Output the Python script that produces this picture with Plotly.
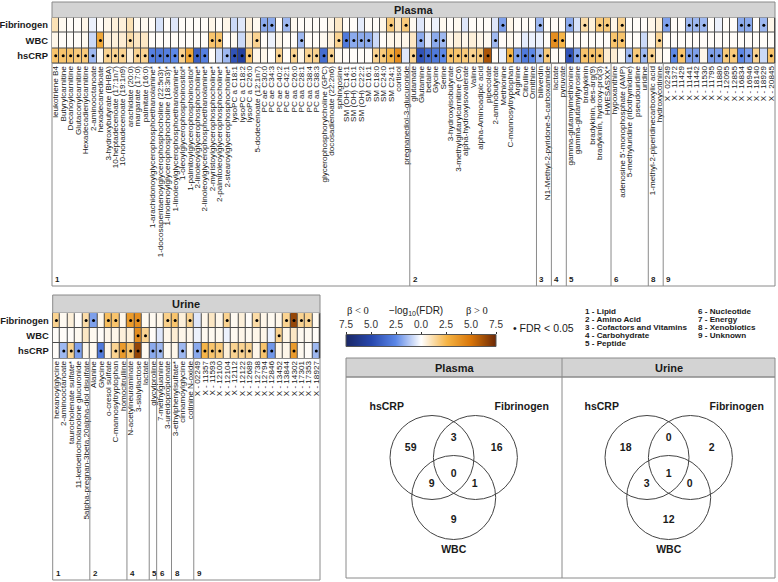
import numpy as np
import plotly.graph_objects as go

W, H = 778, 582
def px(x): return x / W
def py(y): return 1 - y / H

# ---------------- DATA ----------------
rows = ["hsCRP", "WBC", "Fibrinogen"]

plasma_metabolites = [
    "leukotriene B4", "Butyrylcarnitine", "Decanoylcarnitine", "Glutaconylcarnitine",
    "Hexadecadienylcarnitine", "2-aminooctanoate", "hexadecanedioate", "3-hydroxybutyrate (BHBA)",
    "10-heptadecenoate (17:1n7)", "10-nonadecenoate (19:1n9)", "arachidate (20:0)", "margarate (17:0)",
    "palmitate (16:0)", "1-arachidonoylglycerophosphoethanolamine*",
    "1-docosapentaenoylglycerophosphocholine (22:5n3)*", "1-linolenoylglycerophosphocholine (18:3n3)*",
    "1-linoleoylglycerophosphoethanolamine*", "1-oleoylglycerophosphoinositol*",
    "1-palmitoylglycerophosphoinositol*", "2-linoleoylglycerophosphocholine*",
    "2-linoleoylglycerophosphoethanolamine*", "2-myristoylglycerophosphocholine*",
    "2-palmitoleoylglycerophosphocholine*", "2-stearoylglycerophosphocholine*",
    "lysoPC a C18:1", "lysoPC a C18:2", "lysoPC a C26:0", "5-dodecenoate (12:1n7)",
    "PC ae C30:0", "PC ae C34:3", "PC ae C40:2", "PC ae C42:1", "PC aa C26:0", "PC aa C28:1",
    "PC aa C38:4", "PC aa C38:3", "glycerophosphorylcholine (GPC)", "docosadienoate (22:2n6)",
    "sphingosine", "SM (OH) C14:1", "SM (OH) C16:1", "SM (OH) C22:2", "SM C16:1", "SM C18:0",
    "SM C24:0", "SM C24:1", "cortisol", "pregnanediol-3-glucuronide",
    "glutamate", "Glutamine", "betaine", "Glycine", "Serine", "3-hydroxyisobutyrate",
    "3-methylglutarylcarnitine (C6)", "alpha-hydroxyisovalerate", "Valine", "alpha-Aminoadipic acid",
    "pipecolate", "2-aminobutyrate", "Methionine", "C-mannosyltryptophan", "Arginine", "Citrulline",
    "Ornithine",
    "biliverdin", "N1-Methyl-2-pyridone-5-carboxamide",
    "lactate", "pyruvate",
    "gamma-glutamylmethionine", "gamma-glutamyltyrosine", "bradykinin", "bradykinin, des-arg(9)",
    "bradykinin, hydroxy-pro(3)", "HWESASXX*",
    "hypoxanthine", "adenosine 5'-monophosphate (AMP)", "5-methyluridine (ribothymidine)",
    "pseudouridine", "uridine",
    "1-methyl-2-piperidinecarboxylic acid", "hydroxycotinine",
    "X - 02249", "X - 11372", "X - 11429", "X - 11441", "X - 11442", "X - 11530", "X - 11795",
    "X - 11880", "X - 12095", "X - 12855", "X - 16834", "X - 16946", "X - 18140", "X - 18929",
    "X - 20845",
]
plasma_group_labels = ["1", "2", "3", "4", "5", "6", "8", "9"]
plasma_group_counts = [48, 17, 2, 2, 6, 5, 2, 15]

# signed -log10(FDR) (sign = direction of beta)
plasma_fib = [
    1.0, 0.2, 0.1, 0.1, 0.3, -0.3, 0.1, 0.3, 0.5, 0.5, 1.0, 0.2, 0.2, 0.1, -0.6, 0.1, -0.5, 0.1,
    0.1, 0.1, 0.1, 0.3, 0.1, 0.3, -0.8, -0.5, 0.5, 0.2, -1.8, -1.8, 0.1, -1.5, 0.2, 0.1, 0.1, 0.1,
    0.1, 0.3, 0.8, 0.1, 0.1, -0.4, 0.1, 0.1, 0.3, 1.8, 0.8, 1.8,
    0.2, -0.5, 0.1, -0.3, 0.2, 0.1, 0.2, -0.5, 0.1, 0.1, 0.1, -0.5, -2.0, 0.3, 0.1, 0.1, 0.1,
    -1.5, 0.1,
    0.1, 0.1,
    -1.8, -0.6, 1.2, 0.5, 1.8, 1.8,
    0.3, 1.5, 0.1, 0.1, 0.1,
    0.3, 0.6,
    -2.0, 0.1, 0.1, -1.5, -1.5, -1.5, 0.1, -0.3, 0.1, 0.1, -1.8, -1.8, 0.1, -1.5, 0.3,
]
plasma_wbc = [
    0.3, 0.1, 0.1, 0.1, 0.2, -0.8, 3.0, 0.5, 0.5, 0.6, 1.2, 0.8, 0.8, 0.1, 0.1, 0.1, 0.1, 0.1,
    0.1, 0.1, 0.1, 2.0, 2.0, 0.1, 0.2, -0.8, 0.8, 1.5, 0.1, -0.3, 0.3, 0.1, 0.1, -1.5, 0.1, 0.1,
    0.2, 0.5, 1.5, -3.0, -1.8, -1.8, -1.8, -0.8, 0.1, 0.3, 0.3, 0.3,
    0.8, -1.8, -0.5, -1.8, -1.5, 0.3, 0.5, 0.3, 0.5, 0.3, 0.2, -1.5, 0.1, 0.2, 0.1, -0.4, -0.3,
    -0.3, 0.1,
    4.0, 2.5,
    0.1, 0.1, 0.1, 0.1, 0.1, 0.1,
    2.0, 2.0, 0.1, 0.1, -0.8,
    0.3, 1.5,
    0.1, 0.1, 0.1, 0.1, 0.1, 0.1, 0.1, 0.1, 0.1, 0.1, 0.1, 0.1, 0.1, 0.1, 0.1,
]
plasma_crp = [
    2.0, 2.0, 2.0, 1.8, 1.8, -1.5, 0.2, 1.5, 1.5, 1.5, 0.5, 1.5, 1.5, -2.8, -3.0, -2.8, -2.5, 1.5,
    3.0, -4.0, -2.8, 0.1, -0.8, -1.5, -4.5, -5.5, 2.0, 0.3, 0.3, 0.1, 1.5, 0.1, 1.5, 0.3, 1.5, 1.5,
    -3.5, 1.5, 0.2, 0.1, 0.1, 0.1, 0.1, 1.5, 1.8, 2.5, 4.0, -0.5,
    1.5, -4.5, -3.5, -3.0, -2.5, 2.0, 2.0, 1.8, 1.5, 1.8, 6.0, 0.1, -0.3, 2.5, -2.0, -3.0, -2.5,
    -1.5, 1.8,
    0.1, 0.1,
    -4.5, -2.0, 2.0, 2.0, 2.0, 0.6,
    0.6, 0.2, -1.5, 1.8, -1.5,
    1.5, 0.4,
    0.1, -2.5, 2.0, -2.0, -2.0, 0.3, -2.0, -2.0, 1.8, 1.8, -2.5, -2.0, 1.5, -0.8, 2.0,
]
# 1 = FDR < 0.05
plasma_fib_sig = [
    0, 0, 0, 0, 0, 0, 0, 0, 0, 0, 0, 0, 0, 0, 0, 0, 0, 0, 0, 0, 0, 0, 0, 0, 0, 0, 0, 0, 1, 1, 0, 1,
    0, 0, 0, 0, 0, 0, 0, 0, 0, 0, 0, 0, 0, 1, 0, 1,
    0, 0, 0, 0, 0, 0, 0, 0, 0, 0, 0, 0, 1, 0, 0, 0, 0,
    1, 0,
    0, 0,
    1, 0, 1, 0, 1, 1,
    0, 1, 0, 0, 0,
    0, 0,
    1, 0, 0, 1, 1, 1, 0, 0, 0, 0, 1, 1, 0, 1, 0,
]
plasma_wbc_sig = [
    0, 0, 0, 0, 0, 0, 1, 0, 0, 0, 1, 0, 0, 0, 0, 0, 0, 0, 0, 0, 0, 1, 1, 0, 0, 0, 0, 1, 0, 0, 0, 0,
    0, 1, 0, 0, 0, 0, 1, 1, 1, 1, 1, 0, 0, 0, 0, 0,
    0, 1, 0, 1, 1, 0, 0, 0, 0, 0, 0, 1, 0, 0, 0, 0, 0,
    0, 0,
    1, 1,
    0, 0, 0, 0, 0, 0,
    1, 1, 0, 0, 0,
    0, 1,
    0, 0, 0, 0, 0, 0, 0, 0, 0, 0, 0, 0, 0, 0, 0,
]
plasma_crp_sig = [
    1, 1, 1, 1, 1, 1, 0, 1, 1, 1, 0, 1, 1, 1, 1, 1, 1, 1, 1, 1, 1, 0, 0, 1, 1, 1, 1, 0, 0, 0, 1, 0,
    1, 0, 1, 1, 1, 1, 0, 0, 0, 0, 0, 1, 1, 1, 1, 0,
    1, 1, 1, 1, 1, 1, 1, 1, 1, 1, 1, 0, 0, 1, 1, 1, 1,
    1, 1,
    0, 0,
    1, 1, 1, 1, 1, 0,
    0, 0, 1, 1, 1,
    1, 0,
    0, 1, 1, 1, 1, 0, 1, 1, 1, 1, 1, 1, 1, 0, 1,
]

urine_metabolites = [
    "hexanoylglycine", "2-aminooctanoate", "taurocholenate sulfate*",
    "11-ketoetiocholanolone glucuronide", "5alpha-pregnan-3beta,20alpha-diol disulfate",
    "Alanine", "Glycine", "o-cresol sulfate", "C-mannosyltryptophan", "homocitrulline",
    "N-acetylneuraminate", "3-sialyllactose", "lactate",
    "glycylproline",
    "7-methylguanine", "3-ureidopropionate",
    "3-ethylphenylsulfate*", "cinnamoylglycine", "cotinine N-oxide",
    "X - 02249", "X - 11357", "X - 11593", "X - 12100", "X - 12104", "X - 12112", "X - 12122",
    "X - 12689", "X - 12738", "X - 12794", "X - 12846", "X - 13452", "X - 13844", "X - 14302",
    "X - 17301", "X - 17353", "X - 18927",
]
urine_group_labels = ["1", "2", "4", "5", "6", "8", "9"]
urine_group_counts = [5, 5, 3, 1, 2, 3, 17]

urine_fib = [1.5, 0.2, 0.5, 0.1, 1.2, -2.0, 0.3, 2.2, 2.0, 0.3, 3.5, 4.0, 0.2, 0.2, 0.3, 1.6,
             2.0, 0.5, 1.5, -0.5, 0.3, 0.8, 0.3, 1.5, 0.2, 0.5, 0.1, 1.2, 0.3, 0.2, 0.3, 1.5,
             6.5, 1.5, 1.5, 0.2]
urine_wbc = [0.1, 0.1, 0.1, 0.2, 0.8, 0.2, 0.1, 0.3, 0.3, 0.5, 0.5, 4.0, 1.5, 0.1, -0.5, 0.3,
             0.6, 0.3, 0.3, -0.3, 0.2, 0.2, 0.2, -0.3, 0.2, 0.3, 0.2, 0.3, 0.3, -0.3, 1.5, 0.3,
             0.8, 0.2, 0.2, 0.1]
urine_crp = [0.1, -1.5, 1.5, -2.0, 0.3, 0.2, -3.0, 0.3, 1.5, 3.5, 2.0, 6.5, 0.2, -1.8, -1.5, 0.2,
             0.3, -1.5, 0.2, -1.8, 2.5, 2.0, 1.8, 0.5, 1.5, 1.5, 1.5, 0.3, 2.0, -2.2, 0.3, 0.3,
             3.5, 0.2, 0.1, -1.5]
urine_fib_sig = [1, 0, 0, 0, 1, 1, 0, 1, 1, 0, 1, 1, 0, 0, 0, 1, 1, 0, 1, 0, 0, 0, 0, 1, 0, 0,
                 0, 1, 0, 0, 0, 1, 1, 1, 1, 0]
urine_wbc_sig = [0, 0, 0, 0, 0, 0, 0, 0, 0, 0, 0, 1, 1, 0, 0, 0, 0, 0, 0, 0, 0, 0, 0, 0, 0, 0,
                 0, 0, 0, 0, 1, 0, 0, 0, 0, 0]
urine_crp_sig = [0, 1, 1, 1, 0, 0, 1, 0, 1, 1, 1, 1, 0, 1, 1, 0, 0, 1, 0, 1, 1, 1, 1, 0, 1, 1,
                 1, 0, 1, 1, 0, 0, 1, 0, 0, 1]

venn_sets = ["hsCRP", "Fibrinogen", "WBC"]
venn_regions = ["hsCRP", "hsCRP & Fibrinogen", "Fibrinogen", "all", "hsCRP & WBC",
                "Fibrinogen & WBC", "WBC"]
plasma_venn_counts = [59, 3, 16, 0, 9, 1, 9]
urine_venn_counts = [18, 0, 2, 1, 3, 0, 12]

group_legend = ["1 - Lipid", "2 - Amino Acid", "3 - Cofactors and Vitamins", "4 - Carbohydrate",
                "5 - Peptide", "6 - Nucleotide", "7 - Energy", "8 - Xenobiotics", "9 - Unknown"]
scale_ticks = [-7.5, -5.0, -2.5, 0.0, 2.5, 5.0, 7.5]

# ---------------- STYLE ----------------
colorscale = [
    [0.0, "#1a2766"], [0.17, "#2747ad"], [0.33, "#5a86e6"], [0.5, "#ffffff"],
    [0.67, "#f6b444"], [0.83, "#d87508"], [1.0, "#6a2706"],
]
FONT = "Liberation Sans, Arial, sans-serif"
TXT = "#1a1a1a"
BOX = "#8a8a8a"
STRIP = "#d3d3d3"

fig = go.Figure()
shapes = []
annotations = []

def ann(text, x, y, size, xanchor="center", family=FONT, xref="paper", xshift=0):
    annotations.append(dict(text=text, x=x, y=y, xref=xref, yref="paper", xanchor=xanchor,
                            yanchor="middle", showarrow=False, xshift=xshift,
                            font=dict(family=family, size=size, color=TXT)))

def heat_panel(xa, ya, names, fib, wbc, crp, fsig, wsig, csig, glabels, gcounts,
               x0, x1, strip_top, heat_top, heat_bot, box_bot, title):
    n = len(names)
    xs = list(range(n))
    z = [crp, wbc, fib]
    fig.add_trace(go.Heatmap(
        z=z, x=xs, y=rows, colorscale=colorscale, zmin=-7.5, zmax=7.5,
        xgap=1, ygap=1, showscale=False, xaxis=xa, yaxis=ya, hoverinfo="skip"))
    dx, dy = [], []
    for r, sig in zip(rows, [csig, wsig, fsig]):
        for i, s in enumerate(sig):
            if s:
                dx.append(i); dy.append(r)
    fig.add_trace(go.Scatter(x=dx, y=dy, mode="markers", xaxis=xa, yaxis=ya,
                             marker=dict(color="black", size=3, symbol="circle"),
                             hoverinfo="skip", showlegend=False))
    ax = "xaxis" + xa[1:]
    ay = "yaxis" + ya[1:]
    fig.layout[ax] = dict(domain=[px(x0), px(x1)], range=[-0.5, n - 0.5], tickmode="array",
                          tickvals=xs, ticktext=names, tickangle=-90, ticks="",
                          tickfont=dict(family=FONT, size=8.1, color=TXT),
                          showgrid=False, zeroline=False, showline=False, anchor=ya,
                          automargin=False, fixedrange=True)
    fig.layout[ay] = dict(domain=[py(heat_bot), py(heat_top)], type="category",
                          categoryorder="array", categoryarray=rows, range=[-0.5, 2.5],
                          tickfont=dict(family=FONT, size=9.4, color=TXT, weight="bold"),
                          ticks="", showgrid=False, zeroline=False, anchor=xa,
                          automargin=False, ticklabelstandoff=3)
    # cell borders (visible through gaps)
    shapes.append(dict(type="rect", xref=xa + " domain", yref=ya + " domain", x0=0, x1=1,
                       y0=0, y1=1, fillcolor="#4a4a4a", line=dict(color="#4a4a4a", width=1),
                       layer="below"))
    # strip + label box
    shapes.append(dict(type="rect", xref="paper", yref="paper", x0=px(x0), x1=px(x1),
                       y0=py(heat_top), y1=py(strip_top), fillcolor=STRIP,
                       line=dict(color=BOX, width=1), layer="below"))
    shapes.append(dict(type="rect", xref="paper", yref="paper", x0=px(x0), x1=px(x1),
                       y0=py(box_bot), y1=py(heat_bot), line=dict(color=BOX, width=1)))
    ann("<b>%s</b>" % title, px((x0 + x1) / 2), py((strip_top + heat_top) / 2), 11)
    start = 0
    for gl, gc in zip(glabels, gcounts):
        if start > 0:
            shapes.append(dict(type="line", xref=xa, yref="paper", x0=start - 0.5,
                               x1=start - 0.5, y0=py(box_bot), y1=py(heat_bot),
                               line=dict(color=BOX, width=1)))
        ann("<b>%s</b>" % gl, start - 0.5, py(box_bot - 7), 8, xanchor="left", xref=xa, xshift=1)
        start += gc

heat_panel("x", "y", plasma_metabolites, plasma_fib, plasma_wbc, plasma_crp,
           plasma_fib_sig, plasma_wbc_sig, plasma_crp_sig, plasma_group_labels,
           plasma_group_counts, 52, 775, 2, 17.5, 63.5, 286, "Plasma")
heat_panel("x2", "y2", urine_metabolites, urine_fib, urine_wbc, urine_crp,
           urine_fib_sig, urine_wbc_sig, urine_crp_sig, urine_group_labels,
           urine_group_counts, 52.7, 320, 295, 313, 358.5, 580, "Urine")

# ---------------- colour scale legend ----------------
fig.add_trace(go.Heatmap(z=[np.linspace(-7.5, 7.5, 301)], x=np.linspace(-7.5, 7.5, 301), y=[0],
                         colorscale=colorscale, zmin=-7.5, zmax=7.5, showscale=False,
                         xaxis="x4", yaxis="y4", hoverinfo="skip"))
fig.layout["xaxis4"] = dict(domain=[px(346), px(496)], range=[-7.5, 7.5], side="top",
                            tickmode="array", tickvals=scale_ticks,
                            ticktext=["%.1f" % abs(v) for v in scale_ticks],
                            ticks="outside", ticklen=2, tickcolor="#333",
                            tickfont=dict(family=FONT, size=10, color="#333"),
                            showgrid=False, zeroline=False, anchor="y4", automargin=False)
fig.layout["yaxis4"] = dict(domain=[py(346.5), py(334.5)], range=[-0.5, 0.5], visible=False,
                            anchor="x4")
shapes.append(dict(type="rect", xref="x4 domain", yref="y4 domain", x0=0, x1=1, y0=0, y1=1,
                   line=dict(color="#555", width=1)))
ann("β &lt; 0", px(358), py(310.5), 10.5, family="Liberation Serif, serif")
ann("−log<sub>10</sub>(FDR)", px(416), py(310.5), 10)
ann("β &gt; 0", px(477), py(310.5), 10.5, family="Liberation Serif, serif")
ann("• FDR &lt; 0.05", px(511), py(327.5), 10.5, xanchor="left")
for i, t in enumerate(group_legend):
    col = 0 if i < 5 else 1
    row = i if i < 5 else i - 5
    ann("<b>%s</b>" % t, px(583 if col == 0 else 696), py(311.5 + 8 * row), 8.1, xanchor="left")

# ---------------- Venn panel ----------------
vx0, vx1, vtop, vstrip, vbot, vdiv = 346, 775, 358, 377, 578, 562
shapes.append(dict(type="rect", xref="paper", yref="paper", x0=px(vx0), x1=px(vx1),
                   y0=py(vstrip), y1=py(vtop), fillcolor=STRIP, line=dict(color=BOX, width=1)))
shapes.append(dict(type="rect", xref="paper", yref="paper", x0=px(vx0), x1=px(vx1),
                   y0=py(vbot), y1=py(vstrip), line=dict(color=BOX, width=1)))
shapes.append(dict(type="line", xref="paper", yref="paper", x0=px(vdiv), x1=px(vdiv),
                   y0=py(vbot), y1=py(vtop), line=dict(color=BOX, width=1)))
for t, cxp in [("Plasma", (vx0 + vdiv) / 2), ("Urine", (vdiv + vx1) / 2)]:
    ann("<b>%s</b>" % t, px(cxp), py((vtop + vstrip) / 2), 11)

fig.layout["xaxis3"] = dict(domain=[px(vx0), px(vx1)], range=[vx0, vx1], visible=False,
                            anchor="y3", fixedrange=True)
fig.layout["yaxis3"] = dict(domain=[py(vbot), py(vstrip)], range=[vbot, vstrip], visible=False,
                            anchor="x3", fixedrange=True)

R = 42
region_offsets = [(-43, -9.5), (0, -19.5), (43, -9.5), (0, 16.5), (-22, 26.5), (21, 26.5), (0, 62.5)]
label_offsets = [(-67, -50.5), (68, -50.5), (0, 92.5)]
for cx, counts in [(453.7, plasma_venn_counts), (668.7, urine_venn_counts)]:
    cy = 457.5
    centers = [(cx - 21.7, cy), (cx + 21.7, cy), (cx, cy + 40)]
    for (ccx, ccy) in centers:
        shapes.append(dict(type="circle", xref="x3", yref="y3", x0=ccx - R, x1=ccx + R,
                           y0=ccy - R, y1=ccy + R, line=dict(color="#444", width=1)))
    fig.add_trace(go.Scatter(
        x=[cx + o[0] for o in region_offsets], y=[cy + o[1] for o in region_offsets],
        text=["<b>%d</b>" % c for c in counts], mode="text", xaxis="x3", yaxis="y3",
        textfont=dict(family=FONT, size=10.5, color=TXT), hoverinfo="skip", showlegend=False))
    fig.add_trace(go.Scatter(
        x=[cx + o[0] for o in label_offsets], y=[cy + o[1] for o in label_offsets],
        text=["<b>%s</b>" % s for s in venn_sets], mode="text", xaxis="x3", yaxis="y3",
        textfont=dict(family=FONT, size=10.5, color=TXT), hoverinfo="skip", showlegend=False))

fig.update_layout(
    width=W, height=H, margin=dict(l=0, r=0, t=0, b=0),
    paper_bgcolor="white", plot_bgcolor="rgba(0,0,0,0)",
    showlegend=False, shapes=shapes, annotations=annotations,
    font=dict(family=FONT, color=TXT),
)
fig.write_html("out.html", config={"displayModeBar": False, "staticPlot": True},
               post_script="document.body.style.margin='0';document.body.style.padding='0';")
